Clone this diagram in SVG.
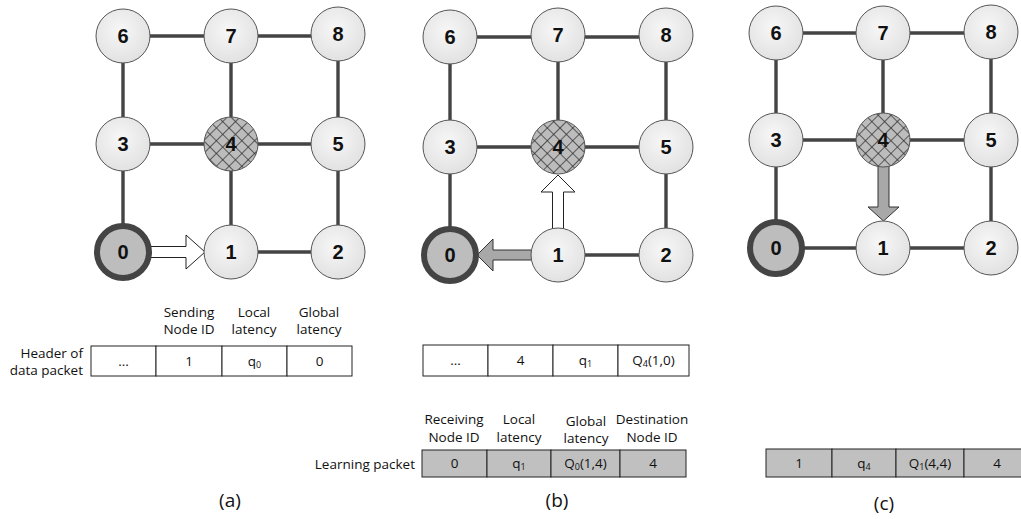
<svg xmlns="http://www.w3.org/2000/svg" width="1021" height="519" viewBox="0 0 1021 519">
<style>
.e{stroke:#444;stroke-width:3.4;fill:none}
.n{fill:url(#g);stroke:#555;stroke-width:1}
.z{fill:#bdbdbd;stroke:#444;stroke-width:6}
.h{fill:url(#hatch);stroke:#555;stroke-width:1}
.nl{font-family:"Liberation Sans",Arial,sans-serif;font-weight:bold;font-size:20px;text-anchor:middle;fill:#111}
.t{font-family:"Open Sans","Liberation Sans",Arial,sans-serif;font-size:13.5px;text-anchor:middle;fill:#111}
.tr{font-family:"Open Sans","Liberation Sans",Arial,sans-serif;font-size:13.5px;text-anchor:end;fill:#111}
.cap{font-family:"Open Sans","Liberation Sans",Arial,sans-serif;font-size:19px;text-anchor:middle;fill:#111}
.w{fill:#fff;stroke:#222;stroke-width:1}
.gr{fill:#c0c0c0;stroke:#222;stroke-width:1}
.aw{fill:#fff;stroke:#222;stroke-width:1}
.ag{fill:#a8a8a8;stroke:#333;stroke-width:1}
.sub{font-size:9px}
</style>
<defs>
<radialGradient id="g" cx="0.45" cy="0.4" r="0.65">
<stop offset="0" stop-color="#f7f7f7"/>
<stop offset="1" stop-color="#e0e0e0"/>
</radialGradient>
<pattern id="hatch" width="9" height="9" patternUnits="userSpaceOnUse" patternTransform="rotate(45)">
<rect width="9" height="9" fill="#bcbcbc"/>
<line x1="0" y1="0" x2="0" y2="9" stroke="#2a2a2a" stroke-width="1.4"/>
<line x1="0" y1="0" x2="9" y2="0" stroke="#2a2a2a" stroke-width="1.4"/>
</pattern>
</defs>
<rect width="1021" height="519" fill="#fff"/>

<g id="connectors">
<path class="e" d="M123,36H338 M123,144H338 M231,252H338 M123,36V252 M231,36V252 M338,36V252"/>
<path class="e" d="M450,37H666 M450,147H666 M558,255H666 M450,37V255 M558,37V147 M666,37V255"/>
<path class="e" d="M776,33H991 M776,140H991 M776,248H991 M776,33V248 M883,33V140 M991,33V248"/>
</g>

<g id="arrows">
<polygon class="aw" points="150,246.5 186,246.5 186,235 205,252 186,269 186,257.5 150,257.5"/>
<polygon class="aw" points="552.5,229 552.5,192 541,192 558,175 575,192 563.5,192 563.5,229"/>
<polygon class="ag" points="532,250 493,250 493,239 477,255 493,271 493,260 532,260"/>
<polygon class="ag" points="878,165 878,207 868,207 883.5,221 899,207 889,207 889,165"/>
</g>

<g id="a-node6"><circle class="n" cx="123" cy="36" r="27"/><text class="nl" x="123" y="43">6</text></g>
<g id="a-node7"><circle class="n" cx="231" cy="36" r="27"/><text class="nl" x="231" y="43">7</text></g>
<g id="a-node8"><circle class="n" cx="338" cy="34" r="27"/><text class="nl" x="338" y="41">8</text></g>
<g id="a-node3"><circle class="n" cx="123" cy="144" r="27"/><text class="nl" x="123" y="151">3</text></g>
<g id="a-node4"><circle class="h" cx="231" cy="144" r="27"/><text class="nl" x="231" y="151">4</text></g>
<g id="a-node5"><circle class="n" cx="338" cy="144" r="27"/><text class="nl" x="338" y="151">5</text></g>
<g id="a-node0"><circle class="z" cx="123" cy="252" r="26"/><text class="nl" x="123" y="259">0</text></g>
<g id="a-node1"><circle class="n" cx="231" cy="252" r="27"/><text class="nl" x="231" y="259">1</text></g>
<g id="a-node2"><circle class="n" cx="338" cy="252" r="27"/><text class="nl" x="338" y="259">2</text></g>

<g id="b-node6"><circle class="n" cx="450" cy="37" r="27"/><text class="nl" x="450" y="44">6</text></g>
<g id="b-node7"><circle class="n" cx="558" cy="35" r="27"/><text class="nl" x="558" y="42">7</text></g>
<g id="b-node8"><circle class="n" cx="666" cy="35" r="27"/><text class="nl" x="666" y="42">8</text></g>
<g id="b-node3"><circle class="n" cx="450" cy="147" r="27"/><text class="nl" x="450" y="154">3</text></g>
<g id="b-node4"><circle class="h" cx="558" cy="147" r="27"/><text class="nl" x="558" y="154">4</text></g>
<g id="b-node5"><circle class="n" cx="666" cy="147" r="27"/><text class="nl" x="666" y="154">5</text></g>
<g id="b-node0"><circle class="z" cx="450" cy="255" r="26"/><text class="nl" x="450" y="262">0</text></g>
<g id="b-node1"><circle class="n" cx="558" cy="255" r="27"/><text class="nl" x="558" y="262">1</text></g>
<g id="b-node2"><circle class="n" cx="666" cy="255" r="27"/><text class="nl" x="666" y="262">2</text></g>

<g id="c-node6"><circle class="n" cx="776" cy="33" r="27"/><text class="nl" x="776" y="40">6</text></g>
<g id="c-node7"><circle class="n" cx="883" cy="33" r="27"/><text class="nl" x="883" y="40">7</text></g>
<g id="c-node8"><circle class="n" cx="991" cy="32" r="27"/><text class="nl" x="991" y="39">8</text></g>
<g id="c-node3"><circle class="n" cx="776" cy="140" r="27"/><text class="nl" x="776" y="147">3</text></g>
<g id="c-node4"><circle class="h" cx="883" cy="140" r="27"/><text class="nl" x="883" y="147">4</text></g>
<g id="c-node5"><circle class="n" cx="991" cy="140" r="27"/><text class="nl" x="991" y="147">5</text></g>
<g id="c-node0"><circle class="z" cx="776" cy="248" r="26"/><text class="nl" x="776" y="255">0</text></g>
<g id="c-node1"><circle class="n" cx="883" cy="248" r="27"/><text class="nl" x="883" y="255">1</text></g>
<g id="c-node2"><circle class="n" cx="991" cy="248" r="27"/><text class="nl" x="991" y="255">2</text></g>

<g id="a-header">
<text class="t" x="189" y="317">Sending</text><text class="t" x="189" y="334">Node ID</text>
<text class="t" x="254" y="317">Local</text><text class="t" x="254" y="334">latency</text>
<text class="t" x="319" y="317">Global</text><text class="t" x="319" y="334">latency</text>
<text class="tr" x="83" y="358">Header of</text><text class="tr" x="83" y="375">data packet</text>
<rect class="w" x="91" y="346" width="65" height="30"/>
<rect class="w" x="156" y="346" width="66" height="30"/>
<rect class="w" x="222" y="346" width="65" height="30"/>
<rect class="w" x="287" y="346" width="65" height="30"/>
<text class="t" x="123.5" y="366">...</text>
<text class="t" x="189" y="366">1</text>
<text class="t" x="254.5" y="366">q<tspan class="sub" dy="2">0</tspan></text>
<text class="t" x="319.5" y="366">0</text>
</g>

<g id="b-header">
<rect class="w" x="423" y="345" width="65" height="31"/>
<rect class="w" x="488" y="345" width="65" height="31"/>
<rect class="w" x="553" y="345" width="65" height="31"/>
<rect class="w" x="618" y="345" width="71" height="31"/>
<text class="t" x="455.5" y="365">...</text>
<text class="t" x="520.5" y="365">4</text>
<text class="t" x="585.5" y="365">q<tspan class="sub" dy="2">1</tspan></text>
<text class="t" x="653.5" y="365">Q<tspan class="sub" dy="2">4</tspan><tspan dy="-2">(1,0)</tspan></text>
</g>

<g id="b-learning">
<text class="t" x="454" y="424">Receiving</text><text class="t" x="454" y="442">Node ID</text>
<text class="t" x="519" y="424">Local</text><text class="t" x="519" y="442">latency</text>
<text class="t" x="586" y="426">Global</text><text class="t" x="586" y="443">latency</text>
<text class="t" x="652" y="424">Destination</text><text class="t" x="652" y="442">Node ID</text>
<text class="tr" x="415" y="469">Learning packet</text>
<rect class="gr" x="422" y="450" width="65" height="27"/>
<rect class="gr" x="487" y="450" width="64" height="27"/>
<rect class="gr" x="551" y="450" width="69" height="27"/>
<rect class="gr" x="620" y="450" width="66" height="27"/>
<text class="t" x="454.5" y="468">0</text>
<text class="t" x="519" y="468">q<tspan class="sub" dy="2">1</tspan></text>
<text class="t" x="585.5" y="468">Q<tspan class="sub" dy="2">0</tspan><tspan dy="-2">(1,4)</tspan></text>
<text class="t" x="653" y="468">4</text>
</g>

<g id="c-learning">
<rect class="gr" x="766" y="449" width="66" height="28"/>
<rect class="gr" x="832" y="449" width="64" height="28"/>
<rect class="gr" x="896" y="449" width="68" height="28"/>
<rect class="gr" x="964" y="449" width="66" height="28"/>
<text class="t" x="799" y="468">1</text>
<text class="t" x="864" y="468">q<tspan class="sub" dy="2">4</tspan></text>
<text class="t" x="930" y="468">Q<tspan class="sub" dy="2">1</tspan><tspan dy="-2">(4,4)</tspan></text>
<text class="t" x="997" y="468">4</text>
</g>

<text class="cap" x="230" y="507">(a)</text>
<text class="cap" x="557" y="507">(b)</text>
<text class="cap" x="884" y="510">(c)</text>
</svg>
